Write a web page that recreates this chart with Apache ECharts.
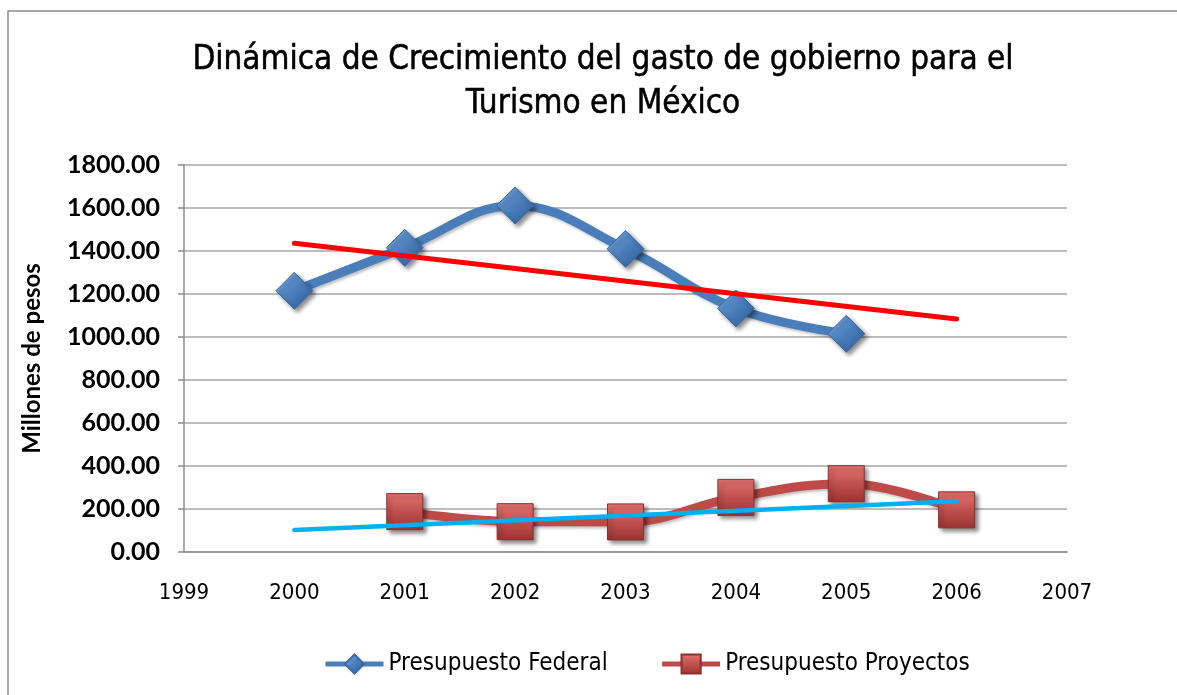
<!DOCTYPE html>
<html>
<head>
<meta charset="utf-8">
<script src="https://cdn.jsdelivr.net/npm/echarts@6/dist/echarts.min.js"></script>
<style>
html,body{margin:0;padding:0;background:#fff;}
#chart{width:1177px;height:695px;}
</style>
</head>
<body>
<div id="chart"></div>
<script>
const years = [2000, 2001, 2002, 2003, 2004, 2005, 2006];
const presupuestoFederal = [1215, 1415, 1612, 1410, 1133, 1015, null];
const presupuestoProyectos = [null, 188, 141, 140, 254, 318, 196];
const tendenciaFederalYears = [2000, 2006];
const tendenciaFederal = [1436, 1084];
const tendenciaProyectosYears = [2000, 2006];
const tendenciaProyectos = [102, 236];
const xTickMin = 1999, xTickMax = 2007;

const narrow = "'Liberation Sans Narrow','DejaVu Sans Condensed',Lato,sans-serif";

function pairs(xs, ys) {
  const out = [];
  xs.forEach((x, i) => { if (ys[i] != null) out.push([x, ys[i]]); });
  return out;
}

const chart = echarts.init(document.getElementById('chart'));
const shadow = {shadowColor: 'rgba(0,0,0,0.45)', shadowBlur: 4, shadowOffsetX: 3, shadowOffsetY: 3};

chart.setOption({
  animation: false,
  backgroundColor: '#fff',
  graphic: [{
    type: 'rect', shape: {x: 8, y: 11, width: 1300, height: 800},
    style: {fill: 'none', stroke: '#8c8c8c', lineWidth: 1.5}, silent: true, z: -10
  }],
  title: {
    text: 'Dinámica de Crecimiento del gasto de gobierno para el\nTurismo en México',
    left: 598, top: 33, textAlign: 'center',
    textStyle: {fontFamily: narrow, fontSize: 33, fontWeight: 'normal', color: '#000', lineHeight: 44,
      textBorderColor: '#000', textBorderWidth: 0.5}
  },
  legend: {
    bottom: 14, left: 318,
    itemWidth: 58, itemHeight: 24, itemGap: 52,
    textStyle: {fontFamily: narrow, fontSize: 24, color: '#000'},
    lineStyle: {width: 5},
    data: ['Presupuesto Federal', 'Presupuesto Proyectos']
  },
  grid: {left: 184, right: 110, top: 165, bottom: 143},
  xAxis: {
    type: 'value', min: xTickMin, max: xTickMax, interval: 1,
    axisLine: {show: true, lineStyle: {color: '#8c8c8c', width: 1.5}},
    axisTick: {show: false},
    splitLine: {show: false},
    axisLabel: {color: '#000', fontFamily: narrow, fontSize: 22, margin: 30, formatter: v => String(v)}
  },
  yAxis: {
    type: 'value', min: 0, max: 1800, interval: 200,
    name: 'Millones de pesos', nameLocation: 'middle', nameGap: 140, nameRotate: 90,
    nameTextStyle: {fontFamily: "Lato,sans-serif", fontSize: 24, fontWeight: 'bold', color: '#000'},
    axisLine: {show: true, lineStyle: {color: '#8c8c8c', width: 1.5}},
    axisTick: {show: true, length: 6, lineStyle: {color: '#8c8c8c', width: 1.5}},
    splitLine: {lineStyle: {color: '#a6a6a6', width: 1.5}},
    axisLabel: {color: '#000', fontFamily: "Lato,sans-serif", fontWeight: 'bold', fontSize: 25, margin: 24, formatter: v => v.toFixed(2)}
  },
  series: [
    {
      name: 'Presupuesto Federal', type: 'line', smooth: 0.4,
      data: pairs(years, presupuestoFederal),
      symbol: 'diamond', symbolSize: 37,
      lineStyle: {color: '#4a7ebb', width: 9, shadowColor: 'rgba(0,0,0,0.25)', shadowBlur: 3, shadowOffsetX: 2, shadowOffsetY: 2},
      itemStyle: Object.assign({
        color: new echarts.graphic.LinearGradient(0, 0, 1, 1, [
          {offset: 0, color: '#7eaee6'}, {offset: 0.5, color: '#4a7ebb'}, {offset: 1, color: '#2c5a96'}
        ]), borderColor: '#3b6aa6', borderWidth: 1
      }, shadow),
      z: 2
    },
    {
      name: 'Presupuesto Proyectos', type: 'line', smooth: 0.4,
      data: pairs(years, presupuestoProyectos),
      symbol: 'rect', symbolSize: 36,
      lineStyle: {color: '#be4b48', width: 9, shadowColor: 'rgba(0,0,0,0.25)', shadowBlur: 3, shadowOffsetX: 2, shadowOffsetY: 2},
      itemStyle: Object.assign({
        color: new echarts.graphic.LinearGradient(0, 0, 0, 1, [
          {offset: 0, color: '#e77672'}, {offset: 0.5, color: '#c0504d'}, {offset: 1, color: '#9c3432'}
        ]), borderColor: '#8c2f2d', borderWidth: 1
      }, shadow),
      z: 2
    },
    {
      name: 'Tendencia Federal', type: 'line', symbol: 'none',
      data: pairs(tendenciaFederalYears, tendenciaFederal),
      lineStyle: {color: '#ff0000', width: 5, cap: 'round'}, z: 5, silent: true
    },
    {
      name: 'Tendencia Proyectos', type: 'line', symbol: 'none',
      data: pairs(tendenciaProyectosYears, tendenciaProyectos),
      lineStyle: {color: '#00b0f0', width: 4.5, cap: 'round'}, z: 5, silent: true
    }
  ]
});
</script>
</body>
</html>
